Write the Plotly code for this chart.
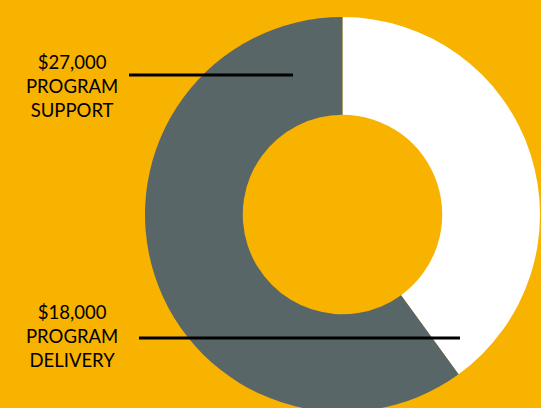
import plotly.graph_objects as go

# Data
categories = ["PROGRAM DELIVERY", "PROGRAM SUPPORT"]
values = [18000, 27000]
slice_colors = ["#FFFFFF", "#586668"]
bg_color = "#F8B200"

W, H = 541, 420  # canvas a bit taller than the 408 window so the ring is clipped at the bottom


def py(pixel_y):
    return (H - pixel_y) / H


def px(pixel_x):
    return pixel_x / W


cx, cy, r = 342.5, 214.5, 197.5

fig = go.Figure(
    go.Pie(
        labels=categories,
        values=values,
        hole=0.505,
        sort=False,
        direction="clockwise",
        rotation=0,
        marker=dict(colors=slice_colors, line=dict(width=0)),
        textinfo="none",
        hoverinfo="label+value",
        showlegend=False,
        domain=dict(x=[px(cx - r), px(cx + r)], y=[py(cy + r), py(cy - r)]),
    )
)


def money(v):
    return "${:,.0f}".format(v)


label_texts = [
    money(values[0]) + "<br>PROGRAM<br>DELIVERY",
    money(values[1]) + "<br>PROGRAM<br>SUPPORT",
]
label_centers = [(72, 336), (72, 86)]
leader_lines = [((139, 338), (460, 338)), ((129, 75), (293, 75))]

for txt, (tx, ty) in zip(label_texts, label_centers):
    fig.add_annotation(
        x=px(tx), y=py(ty), xref="paper", yref="paper",
        text=txt, showarrow=False, align="center",
        xanchor="center", yanchor="middle",
        font=dict(family="Lato", size=18.5, color="#000000"),
    )

for (x0, y0), (x1, y1) in leader_lines:
    fig.add_shape(
        type="line", xref="paper", yref="paper",
        x0=px(x0), y0=py(y0), x1=px(x1), y1=py(y1),
        line=dict(color="#000000", width=3),
    )

fig.update_layout(
    width=W, height=H,
    margin=dict(l=0, r=0, t=0, b=0),
    paper_bgcolor=bg_color,
    plot_bgcolor=bg_color,
)

fig.write_html(
    "out.html",
    config={"displayModeBar": False},
    post_script="document.documentElement.style.overflow='hidden';document.body.style.overflow='hidden';document.body.style.margin='0';",
)
